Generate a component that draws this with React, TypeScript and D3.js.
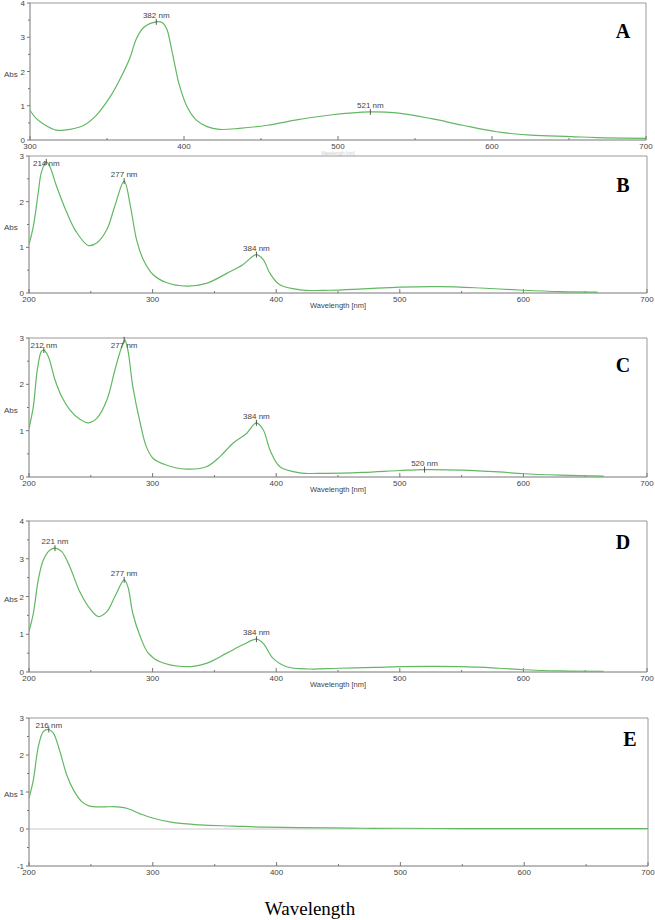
import React from 'react';
import * as d3 from 'd3';

// ---- Data (wavelength nm, absorbance) ----
const spectrumA: [number, number][] = [
  [300, 0.87], [304, 0.63], [309, 0.46], [317, 0.29], [326, 0.31], [335, 0.43], [343, 0.72],
  [352, 1.26], [358, 1.74], [365, 2.41], [369, 2.95], [374, 3.29], [382, 3.45], [386, 3.42],
  [389, 3.22], [391, 2.85], [394, 2.2], [397, 1.6], [402, 0.97], [408, 0.58], [415, 0.39], [423, 0.31],
  [436, 0.34], [454, 0.43], [475, 0.6], [495, 0.73], [521, 0.82], [538, 0.79], [560, 0.63],
  [581, 0.43], [603, 0.24], [625, 0.14], [651, 0.1], [668, 0.07], [700, 0.05],
];
const spectrumB: [number, number][] = [
  [200, 1.06], [203.5, 1.46], [207.5, 2.2], [210, 2.64], [214, 2.87], [217, 2.76], [222, 2.36],
  [230, 1.8], [238, 1.35], [248, 1.04], [255, 1.1], [263, 1.39], [269.5, 1.91], [277, 2.45],
  [282, 1.91], [287, 1.17], [292.5, 0.73], [300.5, 0.4], [311, 0.23], [327.5, 0.15], [343.5, 0.21],
  [360, 0.43], [373, 0.62], [384, 0.84], [389.5, 0.73], [395, 0.43], [403, 0.18], [419, 0.07],
  [443, 0.06], [470, 0.09], [500, 0.13], [533, 0.14], [565, 0.11], [600, 0.06], [630, 0.03], [660, 0.02],
];
const spectrumC: [number, number][] = [
  [200, 1.05], [203.5, 1.52], [206.7, 2.31], [210, 2.71], [212, 2.74], [215.6, 2.6], [221, 2.1],
  [226.5, 1.73], [233, 1.45], [241, 1.25], [248, 1.17], [255, 1.27], [263, 1.66], [269.5, 2.31],
  [275, 2.81], [277.5, 2.96], [280, 2.74], [284, 1.95], [290, 1.16], [295, 0.65], [300.5, 0.4],
  [311, 0.26], [327.5, 0.17], [343.5, 0.22], [354.5, 0.44], [365, 0.73], [376, 0.94], [384, 1.17],
  [389.5, 1.02], [395, 0.58], [403, 0.22], [419, 0.09], [440, 0.08], [470, 0.1], [500, 0.14],
  [520, 0.16], [550, 0.15], [580, 0.11], [600, 0.07], [630, 0.04], [665, 0.02],
];
const spectrumD: [number, number][] = [
  [200, 1.07], [203.5, 1.55], [207.5, 2.44], [211.6, 2.97], [217, 3.23], [221, 3.28], [226.5, 3.19],
  [233, 2.79], [241, 2.13], [249, 1.69], [256, 1.47], [263, 1.6], [269.5, 2.0], [277, 2.44],
  [280, 2.26], [284, 1.55], [290, 0.94], [296.5, 0.5], [306, 0.27], [327.5, 0.14], [343.5, 0.23],
  [360, 0.5], [373, 0.72], [384, 0.87], [389.5, 0.76], [397.5, 0.36], [408.5, 0.14], [427, 0.08],
  [450, 0.1], [480, 0.12], [500, 0.14], [550, 0.14], [580, 0.1], [600, 0.06], [630, 0.03], [665, 0.02],
];
const spectrumE: [number, number][] = [
  [200, 0.83], [203.5, 1.32], [207.5, 2.22], [211.6, 2.63], [216, 2.69], [219.7, 2.59], [225, 2.09],
  [230.5, 1.46], [236, 1.05], [242.6, 0.74], [249, 0.62], [260, 0.6], [271, 0.6], [279, 0.56],
  [290, 0.41], [300.5, 0.29], [317, 0.17], [338, 0.11], [365, 0.08], [392, 0.05], [443, 0.03],
  [470, 0.02], [500, 0.02], [550, 0.01], [600, 0.01], [700, 0.01],
];

const peaksA = [{ nm: 382, abs: 3.45 }, { nm: 521, abs: 0.82 }];
const peaksB = [{ nm: 214, abs: 2.87 }, { nm: 277, abs: 2.45 }, { nm: 384, abs: 0.84 }];
const peaksC = [{ nm: 212, abs: 2.74 }, { nm: 277, abs: 2.96 }, { nm: 384, abs: 1.17 }, { nm: 520, abs: 0.16 }];
const peaksD = [{ nm: 221, abs: 3.28 }, { nm: 277, abs: 2.44 }, { nm: 384, abs: 0.87 }];
const peaksE = [{ nm: 216, abs: 2.69 }];

const xTicksA = [300, 400, 500, 600, 700];
const xTicksBE = [200, 300, 400, 500, 600, 700];
const yTicksA = [0, 1, 2, 3, 4];
const yTicksB = [0, 1, 2, 3];
const yTicksC = [0, 1, 2, 3];
const yTicksD = [0, 1, 2, 3, 4];
const yTicksE = [-1, 0, 1, 2, 3];

const panelLetters = ['A', 'B', 'C', 'D', 'E'];
const xAxisTitle = 'Wavelength [nm]';
const yAxisTitle = 'Abs';
const bottomTitle = 'Wavelength';

type Panel = {
  letter: string;
  data: [number, number][];
  peaks: { nm: number; abs: number }[];
  xTicks: number[];
  yTicks: number[];
  top: number;
  bottom: number;
  left: number;
  right: number;
  letterX: number;
  letterDy: number;
  xTitle: 'normal' | 'faint' | 'none';
};

const panels: Panel[] = [
  { letter: panelLetters[0], data: spectrumA, peaks: peaksA, xTicks: xTicksA, yTicks: yTicksA, top: 3, bottom: 140, left: 30, right: 646, letterX: 623, letterDy: 35, xTitle: 'faint' },
  { letter: panelLetters[1], data: spectrumB, peaks: peaksB, xTicks: xTicksBE, yTicks: yTicksB, top: 156, bottom: 293, left: 29, right: 647, letterX: 623, letterDy: 36, xTitle: 'normal' },
  { letter: panelLetters[2], data: spectrumC, peaks: peaksC, xTicks: xTicksBE, yTicks: yTicksC, top: 338, bottom: 477, left: 29, right: 647, letterX: 623, letterDy: 34, xTitle: 'normal' },
  { letter: panelLetters[3], data: spectrumD, peaks: peaksD, xTicks: xTicksBE, yTicks: yTicksD, top: 521, bottom: 672, left: 29, right: 647, letterX: 623, letterDy: 28, xTitle: 'normal' },
  { letter: panelLetters[4], data: spectrumE, peaks: peaksE, xTicks: xTicksBE, yTicks: yTicksE, top: 718, bottom: 866, left: 29, right: 648, letterX: 630, letterDy: 28, xTitle: 'none' },
];

const GREEN = '#62b862';
const AXIS = '#777';
const FRAME = '#999';
const TXT = '#444';
const SANS = '"Liberation Sans", Arial, sans-serif';
const SERIF = '"Liberation Serif", "Times New Roman", serif';

function PanelView({ p, idx }: { p: Panel; idx: number }) {
  const xs = d3.scaleLinear().domain([p.xTicks[0], p.xTicks[p.xTicks.length - 1]]).range([p.left, p.right]);
  const ys = d3.scaleLinear().domain([p.yTicks[0], p.yTicks[p.yTicks.length - 1]]).range([p.bottom, p.top]);
  const line = d3.line<[number, number]>().x(d => xs(d[0])).y(d => ys(d[1])).curve(d3.curveCatmullRom.alpha(0.5));
  const xMinor = p.xTicks.slice(0, -1).map((t, i) => (t + p.xTicks[i + 1]) / 2);
  const yMinor = p.yTicks.slice(0, -1).map((t, i) => (t + p.yTicks[i + 1]) / 2);
  const clipId = `clip-${idx}`;
  const midY = (p.top + p.bottom) / 2;
  return (
    <g>
      <defs>
        <clipPath id={clipId}>
          <rect x={p.left} y={p.top - 2} width={p.right - p.left} height={p.bottom - p.top + 2} />
        </clipPath>
      </defs>
      <line x1={p.left} x2={p.right} y1={p.top} y2={p.top} stroke={FRAME} strokeWidth={1} />
      <line x1={p.right} x2={p.right} y1={p.top} y2={p.bottom} stroke={FRAME} strokeWidth={1} />
      {p.yTicks[0] < 0 && (
        <line x1={p.left} x2={p.right} y1={ys(0)} y2={ys(0)} stroke="#bbb" strokeWidth={0.8} />
      )}
      <line x1={p.left} x2={p.left} y1={p.top} y2={p.bottom} stroke={AXIS} strokeWidth={1} />
      <line x1={p.left} x2={p.right} y1={p.bottom} y2={p.bottom} stroke={AXIS} strokeWidth={1} />
      {p.xTicks.map(t => (
        <g key={'xt' + t}>
          <line x1={xs(t)} x2={xs(t)} y1={p.bottom} y2={p.bottom - 4} stroke={AXIS} />
          <text x={xs(t)} y={p.bottom + 9} fontSize={8} fill={TXT} textAnchor="middle" fontFamily={SANS}>{t}</text>
        </g>
      ))}
      {xMinor.map(t => (
        <line key={'xm' + t} x1={xs(t)} x2={xs(t)} y1={p.bottom} y2={p.bottom - 2} stroke={AXIS} />
      ))}
      {p.yTicks.map(t => (
        <g key={'yt' + t}>
          <line x1={p.left - 3} x2={p.left} y1={ys(t)} y2={ys(t)} stroke={AXIS} />
          <text x={p.left - 5} y={ys(t) + 3} fontSize={8} fill={TXT} textAnchor="end" fontFamily={SANS}>{t}</text>
        </g>
      ))}
      {yMinor.map(t => (
        <line key={'ym' + t} x1={p.left - 2} x2={p.left} y1={ys(t)} y2={ys(t)} stroke={AXIS} />
      ))}
      <text x={4} y={midY + 5} fontSize={8} fill={TXT} fontFamily={SANS}>{yAxisTitle}</text>
      {p.xTitle === 'normal' && (
        <text x={(p.left + p.right) / 2} y={p.bottom + 15} fontSize={7.5} fill={TXT} textAnchor="middle" fontFamily={SANS}>{xAxisTitle}</text>
      )}
      {p.xTitle === 'faint' && (
        <text x={(p.left + p.right) / 2} y={p.bottom + 15} fontSize={4.5} fill="#ccc" textAnchor="middle" fontFamily={SANS}>{xAxisTitle}</text>
      )}
      <path d={line(p.data) || ''} fill="none" stroke={GREEN} strokeWidth={1.2} clipPath={`url(#${clipId})`} />
      {p.peaks.map(pk => {
        const px = xs(pk.nm);
        const py = ys(pk.abs);
        const ly = Math.max(py - 4, p.top + 10);
        return (
          <g key={'pk' + pk.nm}>
            <line x1={px} x2={px} y1={py - 3} y2={py + 3} stroke="#333" strokeWidth={0.8} />
            <text x={px} y={ly} fontSize={8} fill={TXT} textAnchor="middle" fontFamily={SANS}>{pk.nm} nm</text>
          </g>
        );
      })}
      <text x={p.letterX} y={p.top + p.letterDy} fontSize={20} fontWeight="bold" fill="#000" textAnchor="middle" fontFamily={SERIF}>{p.letter}</text>
    </g>
  );
}

export default function App() {
  return (
    <svg width={655} height={920} style={{ position: 'absolute', left: 0, top: 0, background: '#fff' }}>
      <rect x={0} y={0} width={655} height={920} fill="#fff" />
      {panels.map((p, i) => (
        <PanelView key={p.letter} p={p} idx={i} />
      ))}
      <text x={310} y={915} fontSize={19} fill="#000" textAnchor="middle" fontFamily={SERIF}>{bottomTitle}</text>
    </svg>
  );
}
